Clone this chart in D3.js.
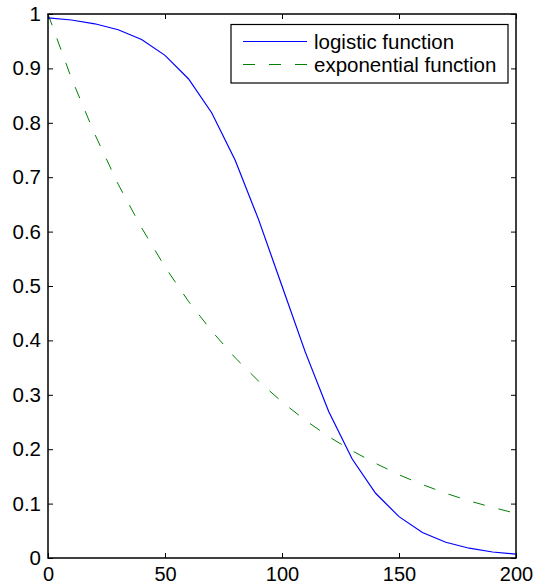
<!DOCTYPE html>
<html>
<head>
<meta charset="utf-8">
<script src="https://cdn.jsdelivr.net/npm/d3@7"></script>
<style>
  html, body { margin: 0; padding: 0; background: #fff; }
  svg { display: block; }
  text { font-family: "Liberation Sans", Arial, Helvetica, sans-serif; }
</style>
</head>
<body>
<div id="chart"></div>
<script>
// ---- data ----
const xValues = [0, 10, 20, 30, 40, 50, 60, 70, 80, 90, 100, 110, 120, 130, 140, 150, 160, 170, 180, 190, 200];
const logisticValues = [0.993, 0.989, 0.982, 0.971, 0.953, 0.924, 0.881, 0.818, 0.731, 0.622, 0.5, 0.378, 0.269, 0.182, 0.119, 0.076, 0.047, 0.029, 0.018, 0.011, 0.007];
const exponentialValues = [1.0, 0.882, 0.779, 0.687, 0.607, 0.535, 0.472, 0.417, 0.368, 0.325, 0.287, 0.253, 0.223, 0.197, 0.174, 0.153, 0.135, 0.119, 0.105, 0.093, 0.082];
const xTicks = [0, 50, 100, 150, 200];
const yTicks = [0, 0.1, 0.2, 0.3, 0.4, 0.5, 0.6, 0.7, 0.8, 0.9, 1];
const seriesNames = ["logistic function", "exponential function"];
const seriesColors = ["#0000ff", "#008000"];

// ---- layout ----
const W = 535, H = 587;
const L = 48, R = 516, T = 14, B = 558;
const svg = d3.select("#chart").append("svg").attr("width", W).attr("height", H);

const x = d3.scaleLinear().domain([0, 200]).range([L, R]);
const y = d3.scaleLinear().domain([0, 1]).range([B, T]);

const fontSize = 20.5;
const tickLen = 5;

// axes (ticks inward, mirrored)
const axisStyle = g => {
  g.select(".domain").remove();
  g.selectAll(".tick line").attr("stroke", "#000").attr("stroke-width", 1);
  g.selectAll(".tick text").attr("font-size", fontSize).attr("fill", "#000");
};

svg.append("g").attr("transform", `translate(0,${B})`)
  .call(d3.axisBottom(x).tickValues(xTicks).tickFormat(d3.format("d")).tickSizeInner(-tickLen).tickSizeOuter(0).tickPadding(9))
  .call(axisStyle)
  .call(g => g.selectAll(".tick text").attr("font-size", 20).attr("dy", "0.71em"));

svg.append("g").attr("transform", `translate(0,${T})`)
  .call(d3.axisTop(x).tickValues(xTicks).tickFormat("").tickSizeInner(-tickLen).tickSizeOuter(0))
  .call(axisStyle);

svg.append("g").attr("transform", `translate(${L},0)`)
  .call(d3.axisLeft(y).tickValues(yTicks).tickFormat(d => d === 0 || d === 1 ? String(d) : d3.format(".1f")(d)).tickSizeInner(-tickLen).tickSizeOuter(0).tickPadding(7))
  .call(axisStyle);

svg.append("g").attr("transform", `translate(${R},0)`)
  .call(d3.axisRight(y).tickValues(yTicks).tickFormat("").tickSizeInner(-tickLen).tickSizeOuter(0))
  .call(axisStyle);

// lines
const line = d3.line().x((d, i) => x(xValues[i])).y(d => y(d));

svg.append("path").datum(exponentialValues)
  .attr("d", line).attr("fill", "none")
  .attr("stroke", seriesColors[1]).attr("stroke-width", 1)
  .attr("stroke-dasharray", "12,14");

svg.append("path").datum(logisticValues)
  .attr("d", line).attr("fill", "none")
  .attr("stroke", seriesColors[0]).attr("stroke-width", 1.2);

// frame
svg.append("rect").attr("x", L).attr("y", T).attr("width", R - L).attr("height", B - T)
  .attr("fill", "none").attr("stroke", "#000").attr("stroke-width", 1.5);

// legend
const lg = svg.append("g");
const lgX = 231, lgY = 24.5, lgW = 277, lgH = 58.5;
lg.append("rect").attr("x", lgX).attr("y", lgY).attr("width", lgW).attr("height", lgH)
  .attr("fill", "#fff").attr("stroke", "#000").attr("stroke-width", 1.2);
const rowY = [41.5, 64.5];
const dashes = [null, "12,14"];
seriesNames.forEach((name, i) => {
  lg.append("line").attr("x1", 243).attr("x2", 307).attr("y1", rowY[i]).attr("y2", rowY[i])
    .attr("stroke", seriesColors[i]).attr("stroke-width", i === 0 ? 1.2 : 1)
    .attr("stroke-dasharray", dashes[i]);
  lg.append("text").attr("x", 314).attr("y", rowY[i]).attr("dy", "0.35em")
    .attr("font-size", fontSize).attr("fill", "#000").text(name);
});
</script>
</body>
</html>
